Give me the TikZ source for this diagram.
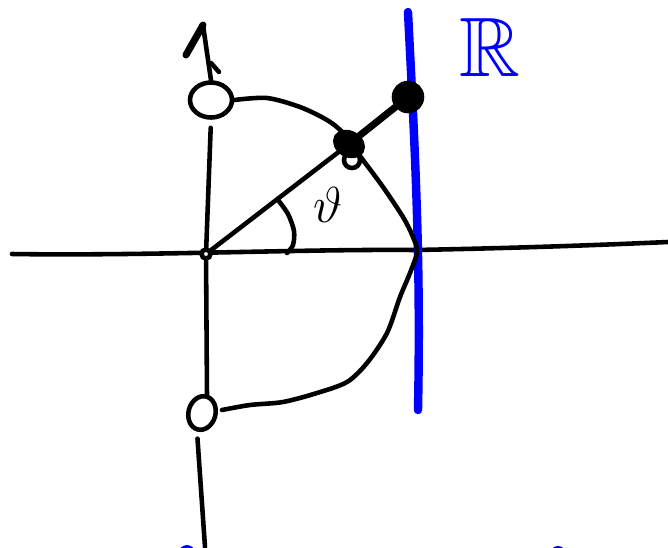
\documentclass[tikz,border=0pt]{standalone}
\usepackage{amsmath}
\usepackage{amssymb}
\usepackage{tikz}
\usepackage{xcolor}
\usetikzlibrary{shapes.geometric}

\begin{document}
\begin{tikzpicture}[x=0.1mm,y=-0.1mm,
  pen/.style={line width=1.3pt,line cap=round,line join=round},
  ring/.style={draw,ellipse,line width=1.3pt,inner sep=0pt,fill=white},
  blob/.style={draw,ellipse,fill=black,line width=1.3pt,inner sep=0pt},
  blueline/.style={blue,line width=2.4pt,line cap=round}]
\useasboundingbox (0,0) rectangle (668,547);
\draw[pen] (12,254) .. controls (150,256) and (300,249) .. (415,250)
  .. controls (520,248) and (600,245) .. (668,242);
\draw[blueline] (408,12) .. controls (415,150) and (421,260) .. (418,410);
\node[text=blue,inner sep=0pt] (R) at (490,47) {\fontsize{24}{24}\selectfont$\mathbb{R}$};
\node[ring,minimum width=4.2mm,minimum height=3.5mm] (top) at (211,100) {};
\node[ring,minimum width=2.7mm,minimum height=3.4mm,rotate=-15] (bot) at (202,413) {};
\node[ring,minimum size=0.9mm] (o) at (206,254) {};
\coordinate (tip) at (203,25);
\coordinate (end) at (205,547);
\draw[pen] (top.north) -- (tip);
\draw[line width=2pt,line cap=round] (tip) -- (186,55);
\draw[pen] (211,63) -- (219,72);
\draw[pen,shorten <=0.8mm] (top.south) -- (o);
\draw[pen] (o) -- (bot.north);
\draw[pen,shorten <=0.7mm] (bot.south) -- (end);
\draw[pen] plot[smooth] coordinates {(top.east) (267,98) (300,107) (327,120)
  (343,133) (363,160) (383,187) (403,217) (413,237) (417,252) (410,273)
  (400,297) (387,333) (367,363) (347,382) (317,393) (283,402) (250,405)
  (222,410)};
\node[ring,minimum size=1.6mm] (q) at (352,160) {};
\node[blob,minimum width=2.9mm,minimum height=2.2mm,rotate=-30] (p) at (349,144) {};
\node[blob,minimum size=2.8mm] (r) at (408,97) {};
\draw[pen] (o) -- (p);
\draw[line width=2pt,line cap=round] (p) -- (r);
\draw[pen] plot[smooth] coordinates {(278,200) (288,214) (294,231) (293,245) (287,253)};
\node (theta) at (328,205) {\fontsize{15}{15}\selectfont$\vartheta$};
\fill[blue] (187,553) circle[radius=8];
\fill[blue] (558,554) circle[radius=8];
\fill[blue!60] (608,554) circle[radius=5];
\fill[blue!40] (655,554) circle[radius=5];
\end{tikzpicture}
\end{document}
